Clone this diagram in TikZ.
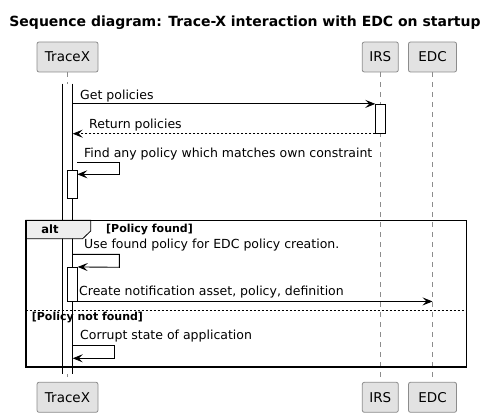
\documentclass[tikz,border=0pt]{standalone}
\usepackage{fontspec}
\setmainfont{DejaVu Sans}
\usetikzlibrary{arrows.meta}
\definecolor{boxfill}{HTML}{E2E2E2}
\definecolor{boxline}{HTML}{8C8C8C}
\definecolor{tabfill}{HTML}{EEEEEE}
\definecolor{lifegray}{HTML}{8C8C8C}
\tikzset{
  partbox/.style={draw=boxline, fill=boxfill, rounded corners=2pt, line width=0.8pt,
    minimum height=30pt, inner sep=0pt, font=\fontsize{13.5}{15}\selectfont},
  lifeline/.style={draw=lifegray, line width=0.7pt, dash pattern=on 5pt off 5pt},
  actbar/.style={draw=black, fill=white, line width=0.8pt, minimum width=10pt, inner sep=0pt},
  msg/.style={draw=black, line width=0.9pt, -{Stealth[length=10pt,width=8pt,inset=4pt]}},
  retmsg/.style={msg, dash pattern=on 2pt off 2pt},
  msglabel/.style={anchor=base west, inner sep=0pt, font=\fontsize{12.5}{14}\selectfont},
  guard/.style={anchor=base west, inner sep=0pt, font=\fontsize{11}{13}\selectfont\bfseries},
}
\begin{document}
\begin{tikzpicture}[x=1pt,y=-1pt]
\useasboundingbox (0,0) rectangle (498,417);
% title
\node[anchor=base, inner sep=0pt, font=\fontsize{14}{16}\selectfont\bfseries] (title) at (245,27) {Sequence diagram: Trace-X interaction with EDC on startup};
% participants
\node[partbox, minimum width=61pt] (tracexTop) at (67.5,57) {TraceX};
\node[partbox, minimum width=36pt] (irsTop) at (380.3,57) {IRS};
\node[partbox, minimum width=48pt] (edcTop) at (432.5,57) {EDC};
\node[partbox, minimum width=61pt] (tracexBot) at (67.5,397.3) {TraceX};
\node[partbox, minimum width=36pt] (irsBot) at (380.3,397.3) {IRS};
\node[partbox, minimum width=48pt] (edcBot) at (432.5,397.3) {EDC};
% lifelines
\draw[lifeline] (tracexTop.south) -- (tracexBot.north);
\draw[lifeline] (irsTop.south) -- (irsBot.north);
\draw[lifeline] (edcTop.south) -- (edcBot.north);
% activation bars
\node[actbar, draw=none, minimum height=290pt] (mainbar) at (67.3,229) {};
\draw[line width=0.8pt] (mainbar.north west) -- (mainbar.south west);
\draw[line width=0.8pt] (mainbar.north east) -- (mainbar.south east);
\node[actbar, minimum height=29pt] (irsbar) at (380.7,118.8) {};
\node[actbar, minimum height=28.3pt, minimum width=9.8pt] (nestA) at (72.4,184.2) {};
\node[actbar, minimum height=33.7pt, minimum width=9.8pt] (nestB) at (72.4,284.2) {};
% messages
\node[msglabel] (lGet) at (80,99.3) {Get policies};
\draw[msg] (mainbar.east |- irsbar.north) -- (irsbar.north west);
\node[msglabel] (lRet) at (89,128.3) {Return policies};
\draw[retmsg] (irsbar.south west) -- (mainbar.east |- irsbar.south);
\node[msglabel] (lFind) at (84,157.3) {Find any policy which matches own constraint};
\coordinate (fS) at (77.3,162.3);
\coordinate (fA) at (119.3,162.3);
\coordinate (fB) at (119.3,174.3);
\coordinate (fE) at (77.3,174.3);
\draw[msg] (fS) -- (fA) -- (fB) -- (fE);
% alt frame
\node[msglabel] (lUse) at (84,248.3) {Use found policy for EDC policy creation.};
\coordinate (uA) at (119.3,254.3);
\coordinate (uB) at (119.3,267.3);
\draw[msg] (mainbar.east |- uA) -- (uA) -- (uB) -- (nestB.north east);
\node[msglabel] (lCreate) at (79,295.3) {Create notification asset, policy, definition};
\coordinate (cE) at (edcTop |- nestB.south);
\draw[msg] (nestB.south east) -- (cE);
\node[msglabel] (lCorr) at (80,339.3) {Corrupt state of application};
\coordinate (kA) at (114.3,345.7);
\coordinate (kB) at (114.3,358.3);
\draw[msg] (mainbar.east |- kA) -- (kA) -- (kB) -- (mainbar.east |- kB);
% frame
\coordinate (frTL) at (25.7,220.3);
\coordinate (frBR) at (466.3,366.7);
\draw[fill=tabfill, line width=0.8pt] (25.7,220.3) -- (90.7,220.3) -- (90.7,231) -- (82.7,238.7) -- (25.7,238.7) -- cycle;
\draw[line width=1.6pt] (frTL) rectangle (frBR);
\draw[line width=0.7pt, dash pattern=on 2pt off 2pt] (25.7,310.7) -- (466.3,310.7);
\node[anchor=base, inner sep=0pt, font=\fontsize{11.5}{13}\selectfont\bfseries] (lAlt) at (50,233.3) {alt};
\node[guard] (gFound) at (106,232.7) {[Policy found]};
\node[guard] (gNot) at (31.7,320) {[Policy not found]};
\end{tikzpicture}
\end{document}
